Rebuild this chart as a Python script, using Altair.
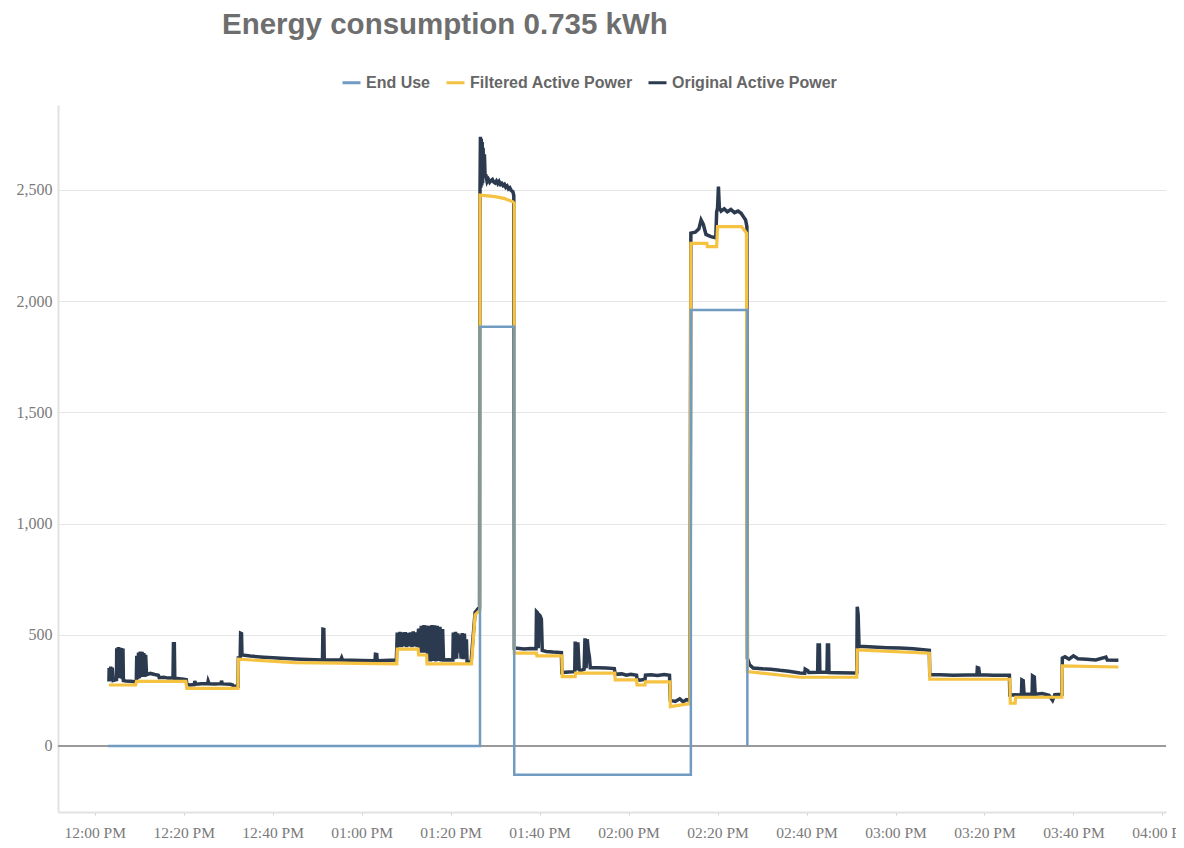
import altair as alt
import pandas as pd

BASE = pd.Timestamp("2020-01-01 12:00:00")

SERIES = ["End Use", "Filtered Active Power", "Original Active Power"]
COLORS = ["#729bc2", "#f5c242", "#2b3a4e"]

# (minutes after 12:00 PM, watts)
end_use = [(3.0, 0), (86.6, 0), (86.6, 1885), (94.3, 1885), (94.3, -130),
           (134.0, -130), (134.0, 1960), (146.7, 1960), (146.7, 0)]

filtered = [(3.2, 274), (9.2, 274), (9.4, 290), (20.5, 290), (20.7, 259), (32.2, 259),
            (32.3, 390), (45, 375), (55, 372), (67.9, 369), (68.0, 435), (72.7, 435),
            (72.8, 409), (74.6, 409), (74.7, 369), (84.7, 369), (85.5, 589), (86.6, 611),
            (86.6, 2477), (90, 2470), (92, 2462), (94.0, 2447), (94.3, 2440), (94.3, 417),
            (99.3, 417), (99.4, 405), (105.0, 405), (105.1, 312), (108, 312), (108.1, 327),
            (116.9, 327), (117.0, 297), (121.8, 297), (121.9, 274), (123.7, 274), (123.8, 288),
            (129.3, 288), (129.4, 177), (133.8, 190), (134.0, 2260), (137.6, 2260),
            (137.7, 2245), (139.8, 2245), (140.0, 2335), (145.4, 2335), (146.5, 2306),
            (146.7, 334), (158.5, 309), (171.3, 309), (171.4, 432), (187.6, 417), (187.7, 300),
            (205.7, 300), (205.8, 192), (206.9, 192), (207.0, 219), (217.4, 219), (217.5, 360),
            (230.1, 355)]

original = [
    (3.2, 290), (3.25, 350), (3.45, 292), (3.6, 357), (3.8, 295), (3.95, 352), (4.15, 294),
    (4.5, 296), (4.9, 298), (4.95, 439), (5.15, 305), (5.3, 445), (5.5, 305), (5.65, 442),
    (5.85, 305), (6.0, 440), (6.2, 300), (6.35, 438), (6.45, 294),
    (7.0, 292), (8.0, 291), (9.0, 289), (9.35, 292),
    (9.45, 405), (9.65, 300), (9.85, 420), (10.05, 305), (10.25, 424), (10.45, 310),
    (10.65, 423), (10.85, 310), (11.05, 418), (11.25, 312), (11.45, 410), (11.65, 320),
    (12.5, 326), (13.5, 321), (14.3, 318), (14.5, 307), (15.5, 309), (16.5, 305),
    (17.6, 306), (17.7, 459), (17.9, 459), (18.0, 304),
    (19.0, 302), (20.0, 300), (20.6, 298), (20.7, 276), (21.5, 274), (22.4, 276), (22.5, 292),
    (22.7, 278), (24, 280), (25.4, 280), (25.5, 291), (25.7, 280), (27, 279), (28.4, 280),
    (28.5, 293), (28.7, 279), (30.5, 277), (31.0, 274), (31.2, 268), (32.2, 268),
    (32.3, 396), (32.7, 397), (32.8, 507), (33.0, 505), (33.1, 409), (35, 404), (38, 399),
    (41, 395), (45, 391), (48, 389), (51.2, 387), (51.3, 525), (51.5, 524), (51.6, 387),
    (55.3, 388), (55.5, 397), (55.7, 386), (60, 384), (63.0, 383), (63.1, 412), (63.4, 411),
    (63.5, 383), (67.8, 386),
    (67.9, 440), (68.0, 510), (68.3, 445), (68.6, 513), (68.9, 445), (69.2, 510), (69.5, 448),
    (69.8, 512), (70.1, 445), (70.4, 508), (70.7, 448), (71.0, 511), (71.3, 445), (71.6, 515),
    (71.9, 448), (72.2, 510), (72.5, 445), (72.8, 528), (73.1, 420), (73.4, 540), (73.7, 420),
    (74.0, 544), (74.3, 420), (74.6, 541), (74.9, 380), (75.2, 540), (75.5, 380), (75.8, 544),
    (76.1, 382), (76.4, 542), (76.7, 380), (77.0, 540), (77.3, 382), (77.6, 536), (77.9, 380),
    (78.2, 526), (78.4, 387),
    (79.5, 388), (80.5, 387), (80.6, 510), (80.85, 390), (81.1, 513), (81.35, 392),
    (81.6, 506), (81.85, 420), (82.1, 500), (82.35, 392), (82.6, 508), (82.85, 390),
    (83.1, 505), (83.35, 395), (83.55, 480), (83.7, 375), (84.6, 378), (85.5, 600), (86.5, 625),
    (86.6, 2480), (86.7, 2739), (86.8, 2510), (86.9, 2730), (87.0, 2520), (87.1, 2715),
    (87.2, 2530), (87.3, 2690), (87.45, 2560), (87.6, 2660), (87.75, 2560), (87.9, 2570),
    (88.2, 2537), (88.5, 2548), (88.8, 2535), (89.1, 2542), (89.4, 2547), (89.7, 2535),
    (90.0, 2531), (90.3, 2540), (90.6, 2528), (90.9, 2538), (91.2, 2525), (91.5, 2530),
    (91.8, 2520), (92.1, 2525), (92.4, 2512), (92.7, 2518), (93.0, 2505), (93.3, 2510),
    (93.6, 2498), (94.0, 2492), (94.2, 2475), (94.3, 440),
    (95.0, 439), (96.5, 436), (98, 438), (99.2, 437), (99.3, 604), (99.5, 600), (99.7, 440),
    (99.85, 590), (100.1, 585), (100.4, 570), (100.6, 430), (101.5, 425), (103, 422),
    (104.9, 420), (105.0, 330), (106.5, 332), (107.9, 334), (108.0, 469), (108.3, 340),
    (108.6, 466), (108.9, 345), (109.1, 338), (110.0, 345), (110.2, 484), (110.45, 350),
    (110.7, 480), (110.95, 430), (111.2, 400), (111.4, 352), (113, 352), (115, 350),
    (116.8, 348), (117.0, 322), (118.5, 324), (119.5, 318), (120.5, 322), (121.8, 318),
    (121.9, 300), (122.5, 296), (123.7, 300), (123.8, 318), (125, 320), (126.5, 317),
    (128, 321), (129.2, 318), (129.4, 205), (130.5, 200), (131.5, 212), (132.3, 198),
    (133.0, 208), (133.8, 206),
    (134.0, 2306), (135.0, 2310), (135.8, 2325), (136.3, 2365), (136.8, 2345), (137.4, 2300),
    (138.5, 2290), (139.6, 2285), (139.8, 2400), (140.0, 2420), (140.2, 2515), (140.4, 2420),
    (140.8, 2405), (141.5, 2415), (142.2, 2402), (143.0, 2412), (143.8, 2398), (144.6, 2405),
    (145.3, 2395), (145.8, 2380), (146.3, 2365), (146.6, 2335), (146.7, 394),
    (147.2, 365), (148, 350), (150, 347), (152, 345), (154, 340), (156, 336), (158.5, 328),
    (159.6, 327), (159.7, 345), (160.3, 338), (160.5, 330), (162.5, 331), (162.6, 454),
    (162.9, 454), (163.0, 331), (164.6, 331), (164.7, 454), (164.95, 454), (165.05, 330),
    (167, 329), (170.8, 328), (171.3, 331), (171.4, 626), (171.6, 590), (171.8, 448),
    (175, 445), (178, 442), (181, 440), (184, 437), (187.6, 430), (187.7, 320), (190, 320),
    (193, 318), (196, 319), (198.3, 320), (198.4, 352), (198.7, 350), (198.9, 320), (202, 318),
    (205.6, 318), (205.7, 229), (207.0, 230), (208.3, 229), (208.4, 297), (208.7, 294),
    (208.9, 232), (210.7, 232), (210.8, 315), (211.2, 310), (211.4, 232), (213, 236),
    (214.5, 228), (215.3, 205), (215.8, 230), (217.4, 232), (217.5, 395), (218.1, 401),
    (219, 390), (220, 405), (221, 392), (223, 390), (225, 387), (227.3, 400), (227.6, 386),
    (230.1, 385)]

Y_TICKS = [0, 500, 1000, 1500, 2000, 2500]
X_TICK_HOURS = [(12, 0), (12, 20), (12, 40), (13, 0), (13, 20), (13, 40), (14, 0),
                (14, 20), (14, 40), (15, 0), (15, 20), (15, 40), (16, 0)]


def frame(pairs, name):
    df = pd.DataFrame(pairs, columns=["min", "value"])
    ts = BASE + pd.to_timedelta(df["min"], unit="m")
    df["time"] = ts.dt.strftime("%Y-%m-%dT%H:%M:%S.%f").str[:-3]
    df["idx"] = range(len(df))
    df["series"] = name
    return df[["time", "value", "idx", "series"]]


def dt(h, m, s=0):
    return alt.DateTime(year=2020, month=1, date=1, hours=h, minutes=m, seconds=s)


x_enc = alt.X(
    "time:T",
    scale=alt.Scale(domain=[dt(11, 51, 45), dt(16, 0, 48)], nice=False),
    axis=alt.Axis(
        values=[dt(h, m) for h, m in X_TICK_HOURS], format="%I:%M %p", title=None,
        grid=False, domainColor="#e2e2e2", domainWidth=2, tickColor="#d0d0d0",
        tickSize=3, labelFont="Liberation Serif", labelFontSize=15.5, labelColor="#7a7a7a",
        labelBaseline="alphabetic", labelPadding=22, labelFlush=False, labelOverlap=False,
    ),
)
y_enc = alt.Y(
    "value:Q",
    scale=alt.Scale(domain=[-297, 2882], nice=False, zero=False),
    axis=alt.Axis(
        values=Y_TICKS, format=",.0f", title=None, ticks=False, domainColor="#e2e2e2",
        domainWidth=2, gridColor="#e6e6e6", gridWidth=1, labelFont="Liberation Serif",
        labelFontSize=16, labelColor="#7a7a7a", labelPadding=6,
    ),
)
color_enc = alt.Color(
    "series:N",
    scale=alt.Scale(domain=SERIES, range=COLORS),
    legend=alt.Legend(
        title=None, orient="none", legendX=283, legendY=-33, direction="horizontal",
        columns=3, symbolType="stroke", symbolSize=324, symbolStrokeWidth=3,
        labelFont="Liberation Sans", labelFontWeight="bold", labelFontSize=16,
        labelColor="#666666", labelOffset=4, columnPadding=9, labelLimit=400,
    ),
)


def line(pairs, name, width):
    return alt.Chart(frame(pairs, name)).mark_line(strokeWidth=width).encode(
        x=x_enc, y=y_enc, color=color_enc, order=alt.Order("idx:Q"))


zero = alt.Chart(pd.DataFrame({"value": [0]})).mark_rule(
    color="#9a9a9a", strokeWidth=2).encode(y=alt.Y("value:Q"))

chart = alt.layer(
    zero,
    line(original, "Original Active Power", 3.5),
    line(filtered, "Filtered Active Power", 3.2),
    line(end_use, "End Use", 2.5),
).properties(
    width=1108, height=707,
    autosize=alt.AutoSizeParams(type="none"),
    padding={"left": 50, "top": 97, "right": 10, "bottom": 28},
    title=alt.TitleParams(
        "Energy consumption 0.735 kWh", anchor="start", frame="group", dx=164,
        fontSize=29.5, font="Liberation Sans", fontWeight="bold", color="#6e6e6e",
        offset=32,
    ),
).configure_view(stroke=None)

chart.save("out.html", embed_options={"renderer": "svg", "actions": False})
